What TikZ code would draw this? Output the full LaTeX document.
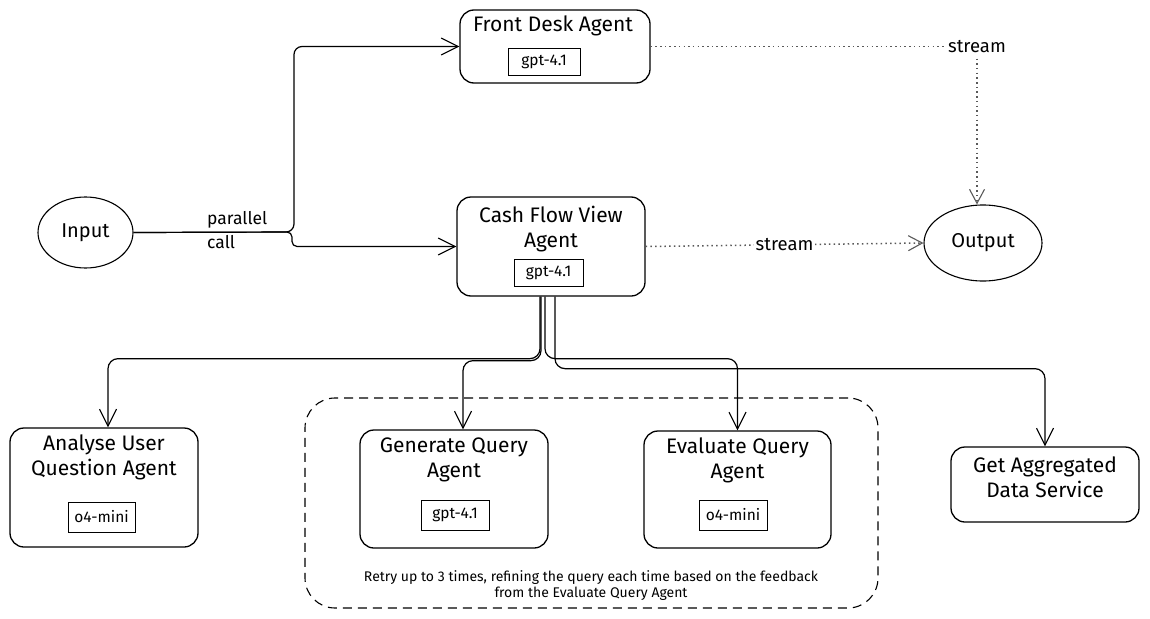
\documentclass[tikz,border=0pt]{standalone}
\usepackage{fontspec}
\setmainfont{Fira Sans}
\usetikzlibrary{arrows.meta,shapes.geometric,calc}
\tikzset{
  agent/.style={draw, line width=1.3pt, rounded corners=14pt, inner sep=0pt},
  model/.style={draw, line width=1pt, inner sep=0pt, minimum height=27pt, font=\fontsize{15.5}{18}\selectfont},
  title/.style={align=center, font=\fontsize{21}{25}\selectfont, inner sep=0pt},
  oval/.style={draw, ellipse, line width=1.1pt, inner sep=0pt, font=\fontsize{20}{22}\selectfont},
  arr/.style={line width=1.2pt, -{Straight Barb[length=17pt,width=17pt,line width=1.1pt]}},
  dotarr/.style={line width=1.5pt, gray!70!black, dash pattern=on 1.5pt off 3.2pt, -{Straight Barb[length=14pt,width=15pt,line width=1.1pt]}},
  lab/.style={fill=white, inner sep=2pt, font=\fontsize{18.5}{20}\selectfont, text=black},
}
\begin{document}
\begin{tikzpicture}[x=1pt,y=-1pt]
\useasboundingbox (0,0) rectangle (1150,618);
% nodes
\node[oval, minimum width=95pt, minimum height=71pt] (in) at (85.5,232.5) {Input};
\node[oval, minimum width=118pt, minimum height=76pt] (out) at (983,243) {Output};

\node[agent, minimum width=190pt, minimum height=73pt] (fd) at (555,46.5) {};
\node[title] (fdt) at (553,26) {Front Desk Agent};
\node[model, minimum width=72pt] (fdm) at (544,62) {gpt-4.1};

\node[agent, minimum width=188pt, minimum height=99pt] (cf) at (551,246.5) {};
\node[title] (cft) at (551,229) {Cash Flow View\\Agent};
\node[model, minimum width=69pt] (cfm) at (548.5,273) {gpt-4.1};

\node[agent, minimum width=188pt, minimum height=119pt] (aq) at (104,487.5) {};
\node[title] (aqt) at (104,457) {Analyse User\\Question Agent};
\node[model, minimum width=67pt, minimum height=30pt] (aqm) at (101.5,517) {o4-mini};

\node[draw, dashed, dash pattern=on 9pt off 6pt, line width=1.1pt, rounded corners=30pt, minimum width=573pt, minimum height=210pt] (grp) at (591.5,503) {};

\node[agent, minimum width=188pt, minimum height=118pt] (gq) at (454,489) {};
\node[title] (gqt) at (454,460) {Generate Query\\Agent};
\node[model, minimum width=68pt, minimum height=30pt] (gqm) at (455,515) {gpt-4.1};

\node[agent, minimum width=187pt, minimum height=117pt] (eq) at (737.5,489.5) {};
\node[title] (eqt) at (737.5,460) {Evaluate Query\\Agent};
\node[model, minimum width=68pt, minimum height=30pt] (eqm) at (733,515) {o4-mini};

\node[agent, minimum width=188pt, minimum height=75pt] (ga) at (1045,484.5) {};
\node[title] (gat) at (1045,477) {Get Aggregated\\Data Service};

\node[align=center, inner sep=0pt, font=\fontsize{14}{16}\selectfont] (retry) at (591,586) {Retry up to 3 times, refining the query each time based on the feedback\\from the Evaluate Query Agent};

% input connectors
\draw[arr, rounded corners=8pt] (in.east) -- (294,232) |- (fd.west);
\draw[arr, rounded corners=5pt] (in.east) -- (292,232) |- (cf.west);
\node[anchor=west, align=left, inner sep=0pt, font=\fontsize{17.5}{24}\selectfont] (pc) at (207,230) {parallel\\call};

% stream connectors
\draw[dotarr] (fd.east) -| node[lab, pos=0.5] (s1) {stream} ([xshift=-6pt]out.north);
\draw[dotarr] (cf.east) -- node[lab, pos=0.5] (s2) {stream} (out.west);

% cash flow branches
\draw[arr, rounded corners=10pt] ([xshift=-11pt]cf.south) -- ++(0,62) -| ([xshift=4pt]aq.north);
\draw[arr, rounded corners=10pt] ([xshift=-10pt]cf.south) -- ++(0,64) -| ([xshift=9pt]gq.north);
\draw[arr, rounded corners=10pt] ([xshift=-6pt]cf.south) -- ++(0,62) -| (eq.north);
\draw[arr, rounded corners=10pt] ([xshift=4pt]cf.south) -- ++(0,72) -| (ga.north);
\end{tikzpicture}
\end{document}
